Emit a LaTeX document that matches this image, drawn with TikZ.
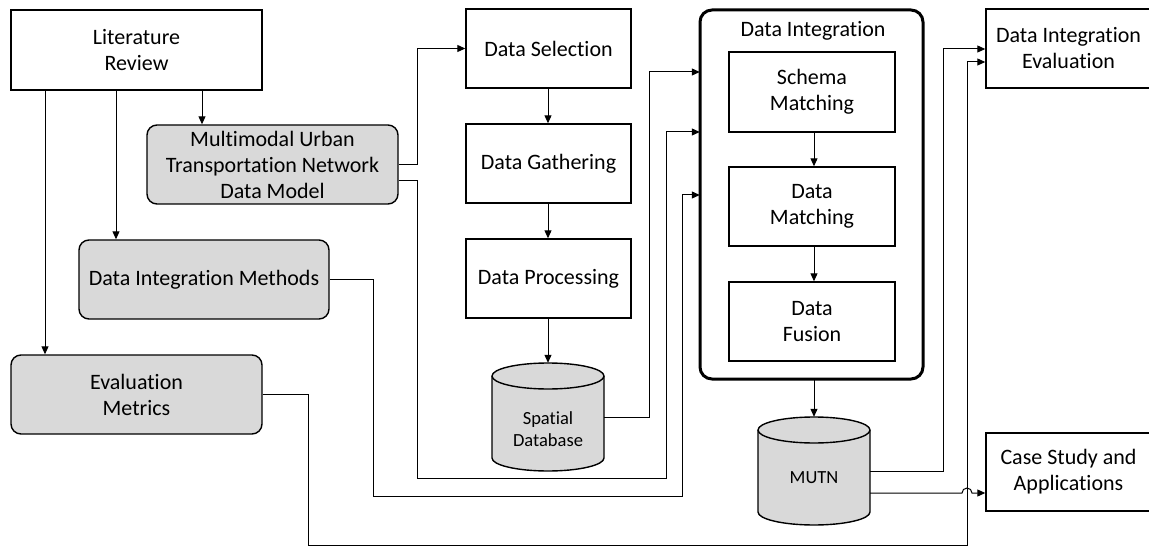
\documentclass[tikz,border=0pt]{standalone}
\usepackage{fontspec}
\setmainfont{Carlito}[Ligatures=NoCommon]
\usetikzlibrary{arrows.meta}
\definecolor{boxgray}{HTML}{D9D9D9}
\tikzset{
  box/.style={draw=black, line width=1.4pt, fill=white, align=center, inner sep=2pt,
    font=\fontsize{22}{26}\selectfont},
  gbox/.style={box, fill=boxgray, rounded corners=10pt},
  holder/.style={draw=none, align=center, inner sep=0pt, font=\fontsize{18.5}{22}\selectfont},
  cyl/.style={draw=black, line width=1.4pt, fill=boxgray},
  arr/.style={draw=black, line width=1pt, -{Triangle[length=8pt,width=7pt]}},
}
\begin{document}
\begin{tikzpicture}[x=1pt,y=-1pt]
\useasboundingbox (0,0) rectangle (1149,548);

% left column
\node[box, minimum width=251pt, minimum height=80pt] (lit) at (136.5,50) {Literature\\Review};
\node[gbox, minimum width=251pt, minimum height=79pt] (mutnm) at (272.5,164.5) {Multimodal Urban\\Transportation Network\\Data Model};
\node[gbox, minimum width=250pt, minimum height=79pt] (dim) at (204,279.5) {Data Integration Methods};
\node[gbox, minimum width=251pt, minimum height=79pt] (em) at (136.5,394.5) {Evaluation\\Metrics};

% middle column
\node[box, minimum width=165pt, minimum height=79pt] (ds) at (548.5,48.5) {Data Selection};
\node[box, minimum width=165pt, minimum height=79pt] (dg) at (548.5,163.5) {Data Gathering};
\node[box, minimum width=165pt, minimum height=79pt] (dp) at (548.5,278.5) {Data Processing};

% spatial database cylinder
\path[cyl] (492,376) -- (492,458) arc[start angle=180,end angle=360,x radius=56pt,y radius=13pt]
  -- (604,376) arc[start angle=0,end angle=180,x radius=56pt,y radius=13pt] -- cycle;
\draw[line width=1.4pt] (492,376) arc[start angle=180,end angle=360,x radius=56pt,y radius=13pt];
\node[holder, minimum width=112pt, minimum height=108pt] (sdb) at (548,417) {};
\node[holder] (sdbt) at (548,429) {Spatial\\Database};

% data integration group
\draw[line width=3pt, rounded corners=12pt] (700,10) rectangle (923,379);
\node[draw=none, minimum width=223pt, minimum height=369pt] (di) at (811.5,194.5) {};
\node[font=\fontsize{22}{26}\selectfont, inner sep=0pt] (dit) at (813,31) {Data Integration};
\node[box, minimum width=166pt, minimum height=80pt] (sm) at (812,92) {Schema\\Matching};
\node[box, minimum width=166pt, minimum height=79pt] (dm) at (812,206.5) {Data\\Matching};
\node[box, minimum width=166pt, minimum height=79pt] (df) at (812,321.5) {Data\\Fusion};

% MUTN cylinder
\path[cyl] (758,430) -- (758,512) arc[start angle=180,end angle=360,x radius=56pt,y radius=13pt]
  -- (870,430) arc[start angle=0,end angle=180,x radius=56pt,y radius=13pt] -- cycle;
\draw[line width=1.4pt] (758,430) arc[start angle=180,end angle=360,x radius=56pt,y radius=13pt];
\node[holder, minimum width=112pt, minimum height=108pt] (mutn) at (814,471) {};
\node[holder] (mutnt) at (814,478) {MUTN};

% right column
\node[box, minimum width=165pt, minimum height=79pt] (die) at (1068.5,48.5) {Data Integration\\Evaluation};
\node[box, minimum width=165pt, minimum height=78pt] (cs) at (1068.5,472) {Case Study and\\Applications};

% connectors from literature review
\draw[arr] ([xshift=65.5pt]lit.south) -- ([xshift=65.5pt]lit.south |- mutnm.north);
\draw[arr] ([xshift=-20.5pt]lit.south) -- ([xshift=-20.5pt]lit.south |- dim.north);
\draw[arr] ([xshift=-91.5pt]lit.south) -- ([xshift=-91.5pt]lit.south |- em.north);

% middle chain
\draw[arr] (sdb.north |- ds.south) -- (sdb.north |- dg.north);
\draw[arr] (sdb.north |- dg.south) -- (sdb.north |- dp.north);
\draw[arr] (sdb.north |- dp.south) -- (sdb.north);
\draw[arr] (mutn.north |- sm.south) -- (mutn.north |- dm.north);
\draw[arr] (mutn.north |- dm.south) -- (mutn.north |- df.north);
\draw[arr] (mutn.north |- di.south) -- (mutn.north);

% model -> data selection
\draw[arr] (mutnm.east) -- (417,164.5) |- (ds.west);
% model -> data integration
\draw[arr] ([yshift=-16.5pt]mutnm.east) -- (417,181) -- (417,478) -- (666,478) -- (666,132) -- (di.west |- 0,132);
% spatial database -> data integration
\draw[arr] (sdb.east) -- (649,417) -- (649,72) -- (di.west |- 0,72);
% methods -> data integration
\draw[arr] (dim.east) -- (373,279.5) -- (373,496) -- (682,496) -- (682,195) -- (di.west |- 0,195);
% metrics -> evaluation
\draw[arr] (em.east) -- (308,394.5) -- (308,545) -- (967,545) -- (967,62) -- (die.west |- 0,62);
% MUTN -> evaluation
\draw[arr] (mutn.east) -- (943,471) -- (943,49) -- (die.west |- 0,49);
% MUTN -> case study (with hop)
\draw[arr] ([yshift=-22pt]mutn.east) -- (962,493) arc[start angle=180,end angle=0,radius=5pt] -- (cs.west |- 0,493);
\end{tikzpicture}
\end{document}
